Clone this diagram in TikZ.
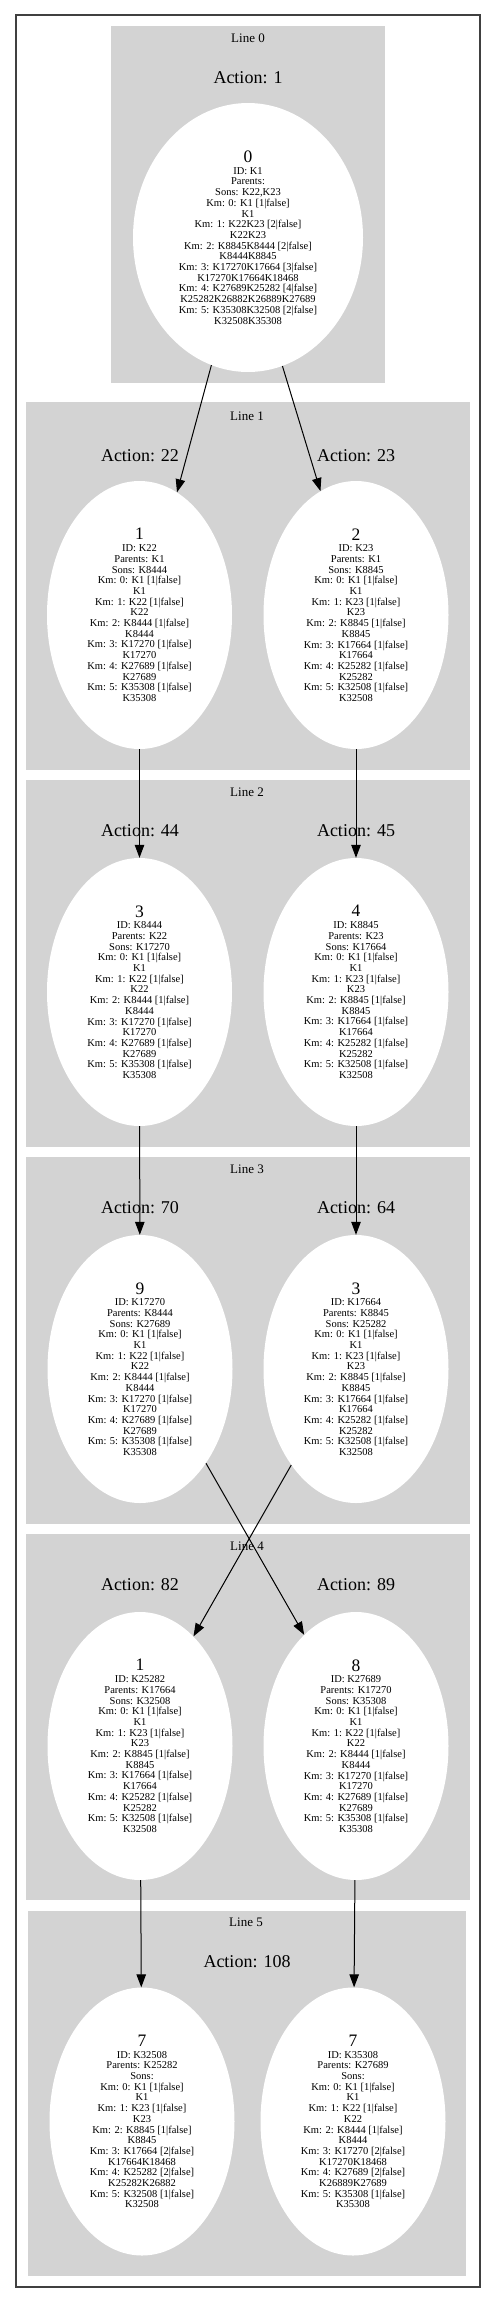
\documentclass[tikz,border=0pt]{standalone}
\usepackage{fontspec}
\setmainfont{Liberation Serif}
\usetikzlibrary{shapes.geometric,arrows.meta}
\definecolor{lightgrey}{HTML}{D3D3D3}
\newcommand\ttl[1]{{\fontsize{17.5}{17.5}\selectfont #1}\\[1pt]}
\newcommand\kmL{Km: 0: K1 [1|false]\\K1\\Km: 1: K22 [1|false]\\K22\\Km: 2: K8444 [1|false]\\K8444\\Km: 3: K17270 [1|false]\\K17270\\Km: 4: K27689 [1|false]\\K27689\\Km: 5: K35308 [1|false]\\K35308}
\newcommand\kmR{Km: 0: K1 [1|false]\\K1\\Km: 1: K23 [1|false]\\K23\\Km: 2: K8845 [1|false]\\K8845\\Km: 3: K17664 [1|false]\\K17664\\Km: 4: K25282 [1|false]\\K25282\\Km: 5: K32508 [1|false]\\K32508}
\tikzset{
  cluster/.style={fill=lightgrey},
  clab/.style={font=\fontsize{13}{13}\selectfont, anchor=base, inner sep=0pt},
  act/.style={font=\fontsize{18}{18}\selectfont, anchor=base, inner sep=0pt},
  st/.style={ellipse, fill=white, inner sep=0pt, align=center, minimum width=185pt, minimum height=268pt, font=\fontsize{10.5}{10.7}\selectfont},
  conn/.style={-{Triangle[length=13pt,width=9.5pt]}, line width=1pt}
}
\begin{document}
\begin{tikzpicture}[x=1pt,y=-1pt]
\useasboundingbox (0,0) rectangle (496,2305);
\draw[black!75, line width=1.3pt] (16,15) rectangle (480,2287);
% clusters
\path[cluster] (111,26) rectangle (385,383);
\path[cluster] (26,402) rectangle (470,770);
\path[cluster] (26,780) rectangle (470,1147);
\path[cluster] (26,1157) rectangle (470,1524);
\path[cluster] (26,1534) rectangle (470,1900);
\path[cluster] (28,1911) rectangle (466,2276);
\node[clab] (l0) at (248,42.7) {Line 0};
\node[clab] (l1) at (247,420) {Line 1};
\node[clab] (l2) at (247,796.7) {Line 2};
\node[clab] (l3) at (247,1173.3) {Line 3};
\node[clab] (l4) at (247,1550) {Line 4};
\node[clab] (l5) at (246,1926.7) {Line 5};
% action labels
\node[act] (a1) at (248,83.3) {Action: 1};
\node[act] (a22) at (140,461) {Action: 22};
\node[act] (a23) at (356,461) {Action: 23};
\node[act] (a44) at (140,836.7) {Action: 44};
\node[act] (a45) at (356,836.7) {Action: 45};
\node[act] (a70) at (140,1213.3) {Action: 70};
\node[act] (a64) at (356,1213.3) {Action: 64};
\node[act] (a82) at (140,1590.7) {Action: 82};
\node[act] (a89) at (356,1590.7) {Action: 89};
\node[act] (a108) at (247,1967.7) {Action: 108};
% states
\node[st, minimum width=230pt, minimum height=269pt] (n0) at (248,237.5) {\ttl{0}ID: K1\\Parents:\\Sons: K22,K23\\Km: 0: K1 [1|false]\\K1\\Km: 1: K22K23 [2|false]\\K22K23\\Km: 2: K8845K8444 [2|false]\\K8444K8845\\Km: 3: K17270K17664 [3|false]\\K17270K17664K18468\\Km: 4: K27689K25282 [4|false]\\K25282K26882K26889K27689\\Km: 5: K35308K32508 [2|false]\\K32508K35308};
\node[st] (n1) at (139.5,615) {\ttl{1}ID: K22\\Parents: K1\\Sons: K8444\\\kmL};
\node[st] (n2) at (356,615) {\ttl{2}ID: K23\\Parents: K1\\Sons: K8845\\\kmR};
\node[st] (n3) at (139.5,992) {\ttl{3}ID: K8444\\Parents: K22\\Sons: K17270\\\kmL};
\node[st] (n4) at (356,992) {\ttl{4}ID: K8845\\Parents: K23\\Sons: K17664\\\kmR};
\node[st] (n9) at (140,1369) {\ttl{9}ID: K17270\\Parents: K8444\\Sons: K27689\\\kmL};
\node[st] (n3b) at (356,1369) {\ttl{3}ID: K17664\\Parents: K8845\\Sons: K25282\\\kmR};
\node[st] (n1b) at (140,1746) {\ttl{1}ID: K25282\\Parents: K17664\\Sons: K32508\\\kmR};
\node[st] (n8) at (356,1746) {\ttl{8}ID: K27689\\Parents: K17270\\Sons: K35308\\\kmL};
\node[st] (n7a) at (142,2121.5) {\ttl{7}ID: K32508\\Parents: K25282\\Sons:\\Km: 0: K1 [1|false]\\K1\\Km: 1: K23 [1|false]\\K23\\Km: 2: K8845 [1|false]\\K8845\\Km: 3: K17664 [2|false]\\K17664K18468\\Km: 4: K25282 [2|false]\\K25282K26882\\Km: 5: K32508 [1|false]\\K32508};
\node[st] (n7b) at (353,2121.5) {\ttl{7}ID: K35308\\Parents: K27689\\Sons:\\Km: 0: K1 [1|false]\\K1\\Km: 1: K22 [1|false]\\K22\\Km: 2: K8444 [1|false]\\K8444\\Km: 3: K17270 [2|false]\\K17270K18468\\Km: 4: K27689 [2|false]\\K26889K27689\\Km: 5: K35308 [1|false]\\K35308};
% connectors
\draw[conn] (n0.254.1) -- (n1.73.9);
\draw[conn] (n0.285.9) -- (n2.106.3);
\draw[conn] (n1) -- (n3);
\draw[conn] (n2) -- (n4);
\draw[conn] (n3) -- (n9);
\draw[conn] (n4) -- (n3b);
\draw[conn] (n9.-55.9) -- (n8.115.9);
\draw[conn] (n3b.236.3) -- (n1b.64.1);
\draw[conn] (n1b) -- (n7a);
\draw[conn] (n8) -- (n7b);
\end{tikzpicture}
\end{document}
